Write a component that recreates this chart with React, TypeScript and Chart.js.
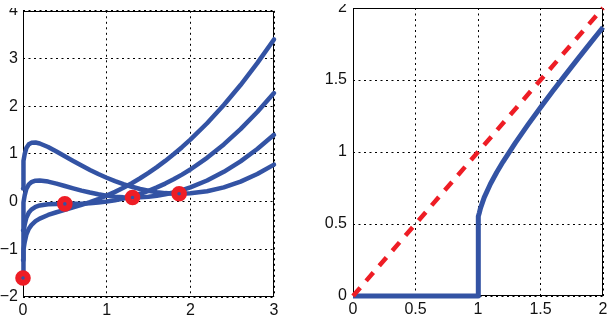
import React, { useEffect, useRef } from 'react';
import { Chart, registerables } from 'chart.js';

Chart.register(...registerables);

// ---------- data ----------
// Left panel: objective curves sampled on a common x grid
const LEFT_X = [0, 0.002, 0.005, 0.01, 0.02, 0.04, 0.07, 0.1, 0.15, 0.2, 0.3, 0.4, 0.5, 0.6, 0.7, 0.8, 0.9, 1.0, 1.1, 1.2, 1.3, 1.4, 1.5, 1.6, 1.7, 1.8, 1.9, 2.0, 2.2, 2.4, 2.6, 2.8, 3.0];
const CURVE_A = [-1.6019, -1.3283, -1.1565, -1.0075, -0.8506, -0.6928, -0.5688, -0.4932, -0.4113, -0.3561, -0.2802, -0.2235, -0.1728, -0.1223, -0.0688, -0.0105, 0.0539, 0.1252, 0.2041, 0.2908, 0.3858, 0.4893, 0.6015, 0.7227, 0.8528, 0.9921, 1.1406, 1.2984, 1.6422, 2.024, 2.444, 2.9025, 3.3997];
const CURVE_B = [-1.2269, -0.9543, -0.784, -0.6374, -0.4856, -0.3378, -0.2288, -0.1682, -0.1113, -0.0811, -0.0552, -0.0485, -0.0478, -0.0473, -0.0438, -0.0355, -0.0211, 0.0002, 0.0291, 0.0658, 0.1108, 0.1643, 0.2265, 0.2977, 0.3778, 0.4671, 0.5656, 0.6734, 0.9172, 1.199, 1.519, 1.8775, 2.2747];
const CURVE_C = [-0.6019, -0.3303, -0.1615, -0.0174, 0.1294, 0.2672, 0.3612, 0.4068, 0.4387, 0.4439, 0.4198, 0.3765, 0.3272, 0.2777, 0.2312, 0.1895, 0.1539, 0.1252, 0.1041, 0.0908, 0.0858, 0.0893, 0.1015, 0.1227, 0.1528, 0.1921, 0.2406, 0.2984, 0.4422, 0.624, 0.844, 1.1025, 1.3997];
const CURVE_D = [0.2731, 0.5437, 0.711, 0.8526, 0.9944, 1.1222, 1.2012, 1.2318, 1.2387, 1.2189, 1.1448, 1.0515, 0.9522, 0.8527, 0.7562, 0.6645, 0.5789, 0.5002, 0.4291, 0.3658, 0.3108, 0.2643, 0.2265, 0.1977, 0.1778, 0.1671, 0.1656, 0.1734, 0.2172, 0.299, 0.419, 0.5775, 0.7747];
const MIN_X = [0, 0.5, 1.309, 1.866];
const MIN_Y = [-1.6019, -0.0478, 0.0857, 0.1651];

// Right panel: threshold curve and identity line
const RIGHT_X = [0, 1, 1, 1.005, 1.01, 1.02, 1.05, 1.1, 1.15, 1.2, 1.3, 1.4, 1.5, 1.6, 1.7, 1.8, 1.9, 2.0];
const RIGHT_Y = [0, 0, 0.5, 0.5526, 0.5759, 0.6105, 0.6851, 0.7791, 0.8589, 0.9317, 1.0653, 1.1899, 1.309, 1.4245, 1.5374, 1.6483, 1.7578, 1.866];
const IDENTITY_X = [0, 2];
const IDENTITY_Y = [0, 2];

// tick labels
const LEFT_X_LABELS = ['0', '1', '2', '3'];
const LEFT_Y_LABELS = ['\u22122', '\u22121', '0', '1', '2', '3', '4'];
const RIGHT_X_LABELS = ['0', '0.5', '1', '1.5', '2'];
const RIGHT_Y_LABELS = ['0', '0.5', '1', '1.5', '2'];

// ---------- styling ----------
const BLUE = '#3353a4';
const RED = '#ee1d25';
const FONT = { family: '"Liberation Sans", Arial, Helvetica, sans-serif', size: 16, lineHeight: 1 };

const pts = (xs: number[], ys: number[]) => xs.map((x, i) => ({ x, y: ys[i] }));

const boxPlugin = {
  id: 'box',
  beforeDatasetsDraw(chart: any) {
    const { ctx, chartArea: a } = chart;
    ctx.save();
    ctx.strokeStyle = '#000';
    ctx.lineWidth = 1;
    ctx.setLineDash([]);
    const l = Math.round(a.left) + 0.5;
    const t = Math.round(a.top) + 0.5;
    const r = Math.round(a.right) - 0.5;
    const b = Math.round(a.bottom) - 0.5;
    ctx.strokeRect(l, t, r - l, b - t);
    ctx.restore();
  },
};

function axis(min: number, max: number, step: number, labels: string[], pad: number, fit: (s: any) => void) {
  return {
    type: 'linear',
    min,
    max,
    afterFit: fit,
    ticks: {
      stepSize: step,
      autoSkip: false,
      maxRotation: 0,
      padding: pad,
      color: '#111',
      font: FONT,
      callback: (_v: any, i: number) => labels[i] ?? '',
    },
    grid: { color: '#000', lineWidth: 1, drawTicks: false },
    border: { display: false, dash: [2, 3.5] },
  };
}

function curve(xs: number[], ys: number[], extra: any = {}) {
  return {
    data: pts(xs, ys),
    showLine: true,
    borderColor: BLUE,
    borderWidth: 4.5,
    pointRadius: 0,
    tension: 0,
    clip: false,
    borderJoinStyle: 'round',
    borderCapStyle: 'round',
    order: 2,
    ...extra,
  };
}

function leftConfig(): any {
  return {
    type: 'scatter',
    data: {
      datasets: [
        {
          data: pts(MIN_X, MIN_Y),
          showLine: false,
          pointRadius: 4.8,
          pointBorderWidth: 6,
          pointBorderColor: RED,
          pointBackgroundColor: 'rgba(0,0,0,0)',
          clip: false,
          order: 0,
        },
        curve(LEFT_X, CURVE_A),
        curve(LEFT_X, CURVE_B),
        curve(LEFT_X, CURVE_C),
        curve(LEFT_X, CURVE_D),
      ],
    },
    options: {
      responsive: false,
      animation: false,
      devicePixelRatio: 1,
      layout: { padding: { top: 9, right: 16, left: 0, bottom: 0 } },
      plugins: { legend: { display: false }, tooltip: { enabled: false } },
      events: [],
      scales: {
        x: axis(0, 3, 1, LEFT_X_LABELS, 6, (s: any) => { s.height = 21; s.paddingLeft = 0; s.paddingRight = 0; }),
        y: axis(-2, 4, 1, LEFT_Y_LABELS, 5, (s: any) => { s.width = 23; s.paddingTop = 0; s.paddingBottom = 0; }),
      },
    },
    plugins: [boxPlugin],
  };
}

function rightConfig(): any {
  return {
    type: 'scatter',
    data: {
      datasets: [
        {
          data: pts(IDENTITY_X, IDENTITY_Y),
          showLine: true,
          borderColor: RED,
          borderWidth: 4.5,
          borderDash: [11, 9],
          borderCapStyle: 'butt',
          pointRadius: 0,
          clip: false,
          order: 0,
        },
        curve(RIGHT_X, RIGHT_Y, { borderWidth: 5, borderCapStyle: 'butt' }),
      ],
    },
    options: {
      responsive: false,
      animation: false,
      devicePixelRatio: 1,
      layout: { padding: { top: 8, right: 7, left: 0, bottom: 0 } },
      plugins: { legend: { display: false }, tooltip: { enabled: false } },
      events: [],
      scales: {
        x: axis(0, 2, 0.5, RIGHT_X_LABELS, 6, (s: any) => { s.height = 22; s.paddingLeft = 0; s.paddingRight = 0; }),
        y: axis(0, 2, 0.5, RIGHT_Y_LABELS, 6, (s: any) => { s.width = 33; s.paddingTop = 0; s.paddingBottom = 0; }),
      },
    },
    plugins: [boxPlugin],
  };
}

function Panel({ make, left, clipTop }: { make: () => any; left: number; clipTop: number }) {
  const ref = useRef<HTMLCanvasElement | null>(null);
  useEffect(() => {
    if (!ref.current) return;
    const chart = new Chart(ref.current, make());
    return () => chart.destroy();
  }, [make]);
  return (
    <div style={{ position: 'absolute', left, top: clipTop, width: 290, height: 318 - clipTop, overflow: 'hidden' }}>
      <canvas
        ref={ref}
        width={290}
        height={318}
        style={{ position: 'absolute', left: 0, top: -clipTop, width: 290, height: 318, display: 'block' }}
      />
    </div>
  );
}

export default function App() {
  return (
    <div style={{ position: 'fixed', left: 0, top: 0, width: 610, height: 318, background: '#fff', overflow: 'hidden' }}>
      <Panel make={leftConfig} left={0} clipTop={8} />
      <Panel make={rightConfig} left={320} clipTop={4} />
    </div>
  );
}
